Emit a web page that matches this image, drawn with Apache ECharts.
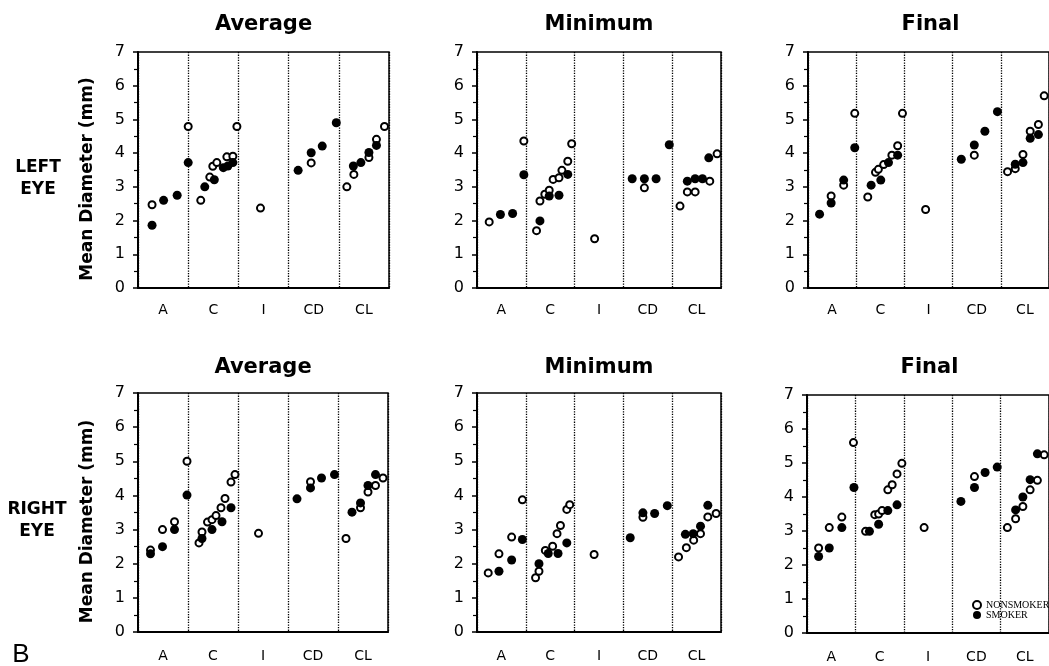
<!DOCTYPE html>
<html>
<head>
<meta charset="utf-8">
<script src="https://cdn.jsdelivr.net/npm/echarts@6/dist/echarts.min.js"></script>
<style>
  html, body { margin: 0; padding: 0; background: #fff; }
  #main { width: 1049px; height: 666px; }
</style>
</head>
<body>
<div id="main"></div>
<script>
// groups on the x axis
var categories = ["A", "C", "I", "CD", "CL"];
var panelTitles = ["Average", "Minimum", "Final", "Average", "Minimum", "Final"];

// [position inside the 0..5 group axis, mean diameter mm]
var avgLeftNon = [[0.28,2.47],[1.0,4.79],[1.25,2.60],[1.43,3.29],[1.49,3.61],[1.57,3.72],[1.77,3.89],[1.89,3.91],[1.97,4.79],[2.44,2.37],[3.45,3.71],[4.16,3.00],[4.30,3.37],[4.60,3.87],[4.75,4.41],[4.91,4.79]];
var avgLeftSmk = [[0.28,1.86],[0.51,2.60],[0.78,2.75],[1.0,3.72],[1.33,3.00],[1.52,3.21],[1.70,3.57],[1.79,3.62],[1.89,3.72],[3.19,3.49],[3.45,4.01],[3.67,4.21],[3.95,4.90],[4.29,3.62],[4.44,3.72],[4.60,4.02],[4.75,4.23]];

var minLeftNon = [[0.25,1.96],[0.96,4.36],[1.22,1.70],[1.29,2.58],[1.39,2.78],[1.48,2.90],[1.56,3.22],[1.68,3.27],[1.74,3.49],[1.86,3.76],[1.94,4.28],[2.41,1.46],[3.43,2.97],[4.16,2.43],[4.31,2.85],[4.47,2.85],[4.77,3.17],[4.92,3.98]];
var minLeftSmk = [[0.48,2.18],[0.73,2.21],[0.96,3.36],[1.29,1.99],[1.48,2.73],[1.68,2.75],[1.86,3.37],[3.18,3.24],[3.43,3.24],[3.67,3.24],[3.94,4.25],[4.31,3.17],[4.47,3.24],[4.62,3.24],[4.75,3.86]];

var finLeftNon = [[0.48,2.73],[0.74,3.05],[0.97,5.18],[1.24,2.70],[1.40,3.43],[1.46,3.52],[1.57,3.66],[1.74,3.94],[1.86,4.22],[1.96,5.18],[2.44,2.33],[3.45,3.94],[4.14,3.45],[4.30,3.54],[4.46,3.96],[4.61,4.65],[4.78,4.85],[4.90,5.70]];
var finLeftSmk = [[0.24,2.19],[0.48,2.52],[0.74,3.20],[0.97,4.16],[1.31,3.05],[1.51,3.20],[1.67,3.72],[1.86,3.94],[3.18,3.82],[3.45,4.24],[3.67,4.65],[3.93,5.23],[4.30,3.67],[4.46,3.72],[4.61,4.44],[4.78,4.55]];

var avgRightNon = [[0.25,2.40],[0.49,3.00],[0.73,3.23],[0.98,5.00],[1.22,2.61],[1.28,2.93],[1.39,3.22],[1.48,3.29],[1.56,3.41],[1.66,3.64],[1.74,3.91],[1.86,4.39],[1.94,4.61],[2.41,2.89],[3.45,4.40],[4.16,2.74],[4.45,3.64],[4.60,4.10],[4.75,4.29],[4.90,4.51]];
var avgRightSmk = [[0.25,2.29],[0.49,2.50],[0.73,3.00],[0.98,4.01],[1.28,2.74],[1.48,3.00],[1.68,3.23],[1.86,3.64],[3.18,3.90],[3.45,4.22],[3.67,4.51],[3.93,4.61],[4.28,3.51],[4.45,3.78],[4.60,4.29],[4.75,4.61]];

var minRightNon = [[0.23,1.73],[0.45,2.29],[0.71,2.78],[0.93,3.87],[1.20,1.59],[1.27,1.78],[1.40,2.39],[1.55,2.51],[1.64,2.88],[1.71,3.12],[1.84,3.59],[1.90,3.73],[2.40,2.27],[3.40,3.36],[4.13,2.20],[4.29,2.47],[4.44,2.69],[4.58,2.88],[4.73,3.37],[4.90,3.47]];
var minRightSmk = [[0.45,1.78],[0.71,2.11],[0.93,2.71],[1.27,2.00],[1.46,2.30],[1.66,2.30],[1.84,2.61],[3.14,2.76],[3.40,3.49],[3.64,3.47],[3.90,3.70],[4.27,2.86],[4.43,2.88],[4.58,3.10],[4.73,3.71]];

var finRightNon = [[0.24,2.50],[0.46,3.10],[0.72,3.41],[0.96,5.60],[1.21,2.99],[1.40,3.48],[1.48,3.50],[1.55,3.60],[1.67,4.21],[1.76,4.36],[1.86,4.68],[1.96,4.99],[2.42,3.10],[3.46,4.60],[4.14,3.10],[4.31,3.36],[4.46,3.72],[4.61,4.21],[4.76,4.49],[4.90,5.24]];
var finRightSmk = [[0.24,2.25],[0.46,2.50],[0.72,3.10],[0.97,4.28],[1.29,2.99],[1.48,3.20],[1.67,3.60],[1.86,3.77],[3.18,3.87],[3.46,4.28],[3.68,4.72],[3.93,4.88],[4.31,3.62],[4.46,4.00],[4.61,4.51],[4.76,5.27]];

var nonsmoker = [avgLeftNon, minLeftNon, finLeftNon, avgRightNon, minRightNon, finRightNon];
var smoker = [avgLeftSmk, minLeftSmk, finLeftSmk, avgRightSmk, minRightSmk, finRightSmk];

// panel boxes (px)
var boxes = [
  { left: 138, top: 52, width: 251, height: 236 },
  { left: 477, top: 52, width: 244, height: 236 },
  { left: 808, top: 52, width: 245, height: 236 },
  { left: 138, top: 393, width: 250, height: 239 },
  { left: 477, top: 393, width: 244, height: 239 },
  { left: 807, top: 395, width: 245, height: 238 }
];

var font = "DejaVu Sans";
var grids = [], xAxes = [], yAxes = [], series = [], graphics = [];

boxes.forEach(function (b, i) {
  grids.push({
    left: b.left, top: b.top, width: b.width, height: b.height,
    show: true, borderColor: "#000", borderWidth: 1.5, containLabel: false
  });
  // labelled group axis with dotted separators
  xAxes.push({
    type: "category", gridIndex: i, data: categories, boundaryGap: true,
    axisLine: { lineStyle: { color: "#000", width: 2 } },
    axisTick: { show: false },
    axisLabel: { color: "#000", fontFamily: font, fontSize: 14, margin: i < 3 ? 15 : 17 },
    splitLine: { show: true, lineStyle: { color: "#000", type: "dotted", width: 1.3 } }
  });
  // hidden value axis the points sit on
  xAxes.push({ type: "value", gridIndex: i, min: 0, max: 5, show: false });
  var y = {
    type: "value", gridIndex: i, min: 0, max: 7, interval: 1,
    axisLine: { show: true, lineStyle: { color: "#000", width: 2 } },
    axisTick: { show: true, length: 5, lineStyle: { color: "#000", width: 1.5 } },
    minorTick: { show: true, splitNumber: 2, length: 4, lineStyle: { color: "#000", width: 1.2 } },
    splitLine: { show: false },
    axisLabel: { color: "#000", fontFamily: font, fontSize: 16, margin: 13 }
  };
  if (i % 3 === 0) {
    y.name = "Mean Diameter (mm)";
    y.nameLocation = "middle";
    y.nameRotate = 90;
    y.nameGap = 42;
    y.nameTextStyle = { color: "#000", fontFamily: font, fontWeight: "bold", fontSize: 17, padding: [0, 18, 0, 0] };
  }
  yAxes.push(y);

  series.push({
    name: "NONSMOKER", type: "scatter", xAxisIndex: 2 * i + 1, yAxisIndex: i,
    data: nonsmoker[i], symbol: "circle", symbolSize: 7, z: 2,
    itemStyle: { color: "#fff", borderColor: "#000", borderWidth: 2, opacity: 1 }
  });
  series.push({
    name: "SMOKER", type: "scatter", xAxisIndex: 2 * i + 1, yAxisIndex: i,
    data: smoker[i], symbol: "circle", symbolSize: 9, z: 3,
    itemStyle: { color: "#000", opacity: 1 }
  });

  graphics.push({
    type: "text", x: b.left + b.width / 2, y: i < 3 ? 25 : 368,
    style: { text: panelTitles[i], align: "center", verticalAlign: "middle",
      fontFamily: font, fontWeight: "bold", fontSize: 21, fill: "#000" }
  });
});

graphics.push({
  type: "text", x: 38, y: 179,
  style: { text: "LEFT\nEYE", align: "center", verticalAlign: "middle", lineHeight: 22,
    fontFamily: font, fontWeight: "bold", fontSize: 17, fill: "#000" }
});
graphics.push({
  type: "text", x: 37, y: 521,
  style: { text: "RIGHT\nEYE", align: "center", verticalAlign: "middle", lineHeight: 22,
    fontFamily: font, fontWeight: "bold", fontSize: 17, fill: "#000" }
});
graphics.push({
  type: "text", x: 21, y: 655,
  style: { text: "B", align: "center", verticalAlign: "middle",
    fontFamily: "Liberation Sans", fontSize: 26, fill: "#000" }
});

var chart = echarts.init(document.getElementById("main"));
chart.setOption({
  animation: false,
  backgroundColor: "#fff",
  grid: grids,
  xAxis: xAxes,
  yAxis: yAxes,
  legend: {
    data: ["NONSMOKER", "SMOKER"],
    orient: "vertical", left: 967, top: 595,
    itemWidth: 8, itemHeight: 8, itemGap: 0,
    selectedMode: false,
    textStyle: { color: "#000", fontFamily: "Liberation Serif", fontSize: 10, lineHeight: 10 }
  },
  graphic: graphics,
  series: series
});
</script>
</body>
</html>
